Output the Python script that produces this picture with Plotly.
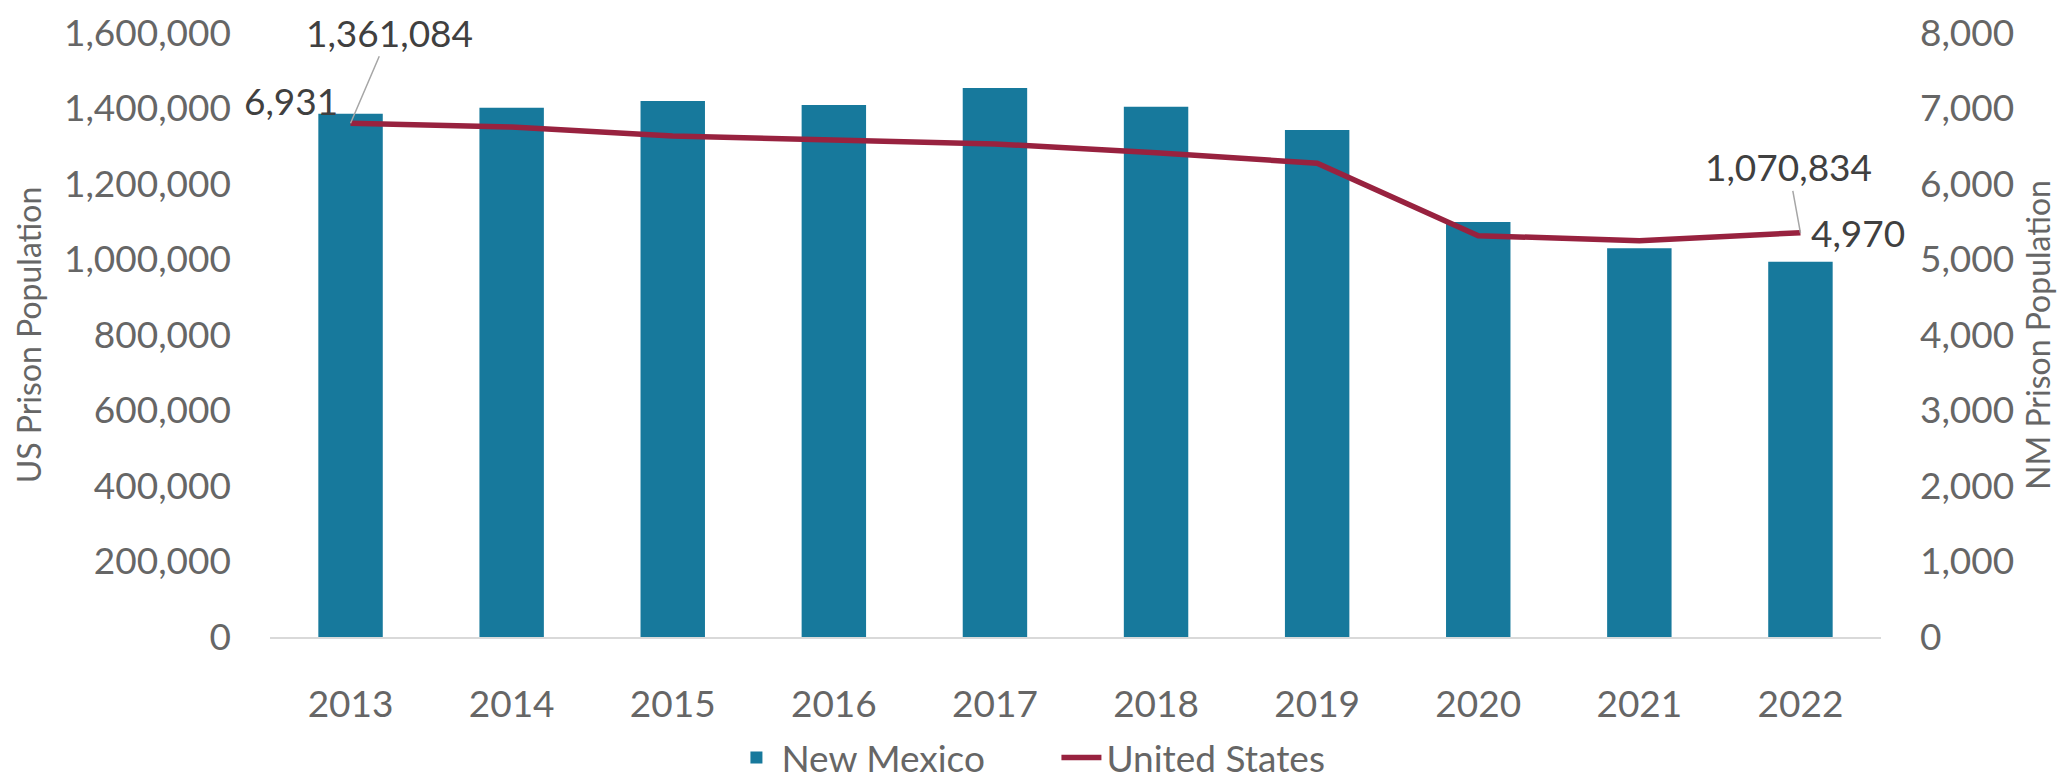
import plotly.graph_objects as go

years = ["2013", "2014", "2015", "2016", "2017", "2018", "2019", "2020", "2021", "2022"]
nm_values = [6931, 7011, 7099, 7046, 7272, 7024, 6715, 5497, 5148, 4970]
us_values = [1361084, 1351000, 1327000, 1316000, 1306000, 1283000, 1255000, 1063000, 1050000, 1070834]

us_ticks = [0, 200000, 400000, 600000, 800000, 1000000, 1200000, 1400000, 1600000]
nm_ticks = [0, 1000, 2000, 3000, 4000, 5000, 6000, 7000, 8000]

BAR = "#17799c"
LINE = "#98223f"
TICK = "#666666"
LABEL = "#404040"
FONT = "Lato, 'Open Sans', sans-serif"
FS = 37

fig = go.Figure()
fig.add_trace(go.Bar(
    x=years, y=nm_values, name="New Mexico", marker=dict(color=BAR, line=dict(width=0)),
    yaxis="y", hoverinfo="skip",
))
fig.add_trace(go.Scatter(
    x=years, y=us_values, name="United States", mode="lines",
    line=dict(color=LINE, width=5.5), yaxis="y2", hoverinfo="skip",
))

fig.update_layout(
    width=2072, height=781,
    margin=dict(l=262, r=199, t=25, b=152, autoexpand=False),
    paper_bgcolor="white", plot_bgcolor="white",
    font=dict(family=FONT, size=FS, color=TICK),
    bargap=0.6,
    showlegend=True,
    legend=dict(orientation="h", xref="container", yref="container", x=0.506, y=0.0,
                xanchor="center", yanchor="bottom", font=dict(size=FS, color=TICK),
                itemwidth=40, entrywidth=270, tracegroupgap=0),
    xaxis=dict(type="category", categoryarray=years, range=[-0.5, len(years) - 0.5],
               autorange=False, showgrid=False, showline=True,
               linecolor="#d9d9d9", linewidth=2, automargin=False,
               ticks="", ticklabelstandoff=34, tickfont=dict(size=FS, color=TICK)),
    yaxis=dict(side="right", range=[0, 8000], autorange=False, tickvals=nm_ticks, tickformat=",",
               showgrid=False, zeroline=False, ticks="", ticklabelstandoff=38, automargin=False,
               tickfont=dict(size=FS, color=TICK),
               title=dict(text="NM Prison Population", font=dict(size=32, color=TICK), standoff=14)),
    yaxis2=dict(side="left", overlaying="y", range=[0, 1600000], autorange=False,
                tickvals=us_ticks, tickformat=",",
                showgrid=False, zeroline=False, ticks="", ticklabelstandoff=38, automargin=False,
                tickfont=dict(size=FS, color=TICK),
                title=dict(text="US Prison Population", font=dict(size=32, color=TICK), standoff=12)),
)

first, last = 0, len(years) - 1
# data labels (category axes take the category index for annotations)
fig.add_annotation(x=first, y=us_values[first], xref="x", yref="y2",
                   text=f"{us_values[first]:,}", showarrow=True, arrowhead=0, arrowwidth=1.5,
                   arrowcolor="#a6a6a6", ax=39, ay=-91, font=dict(size=FS, color=LABEL))
fig.add_annotation(x=first, y=nm_values[first], xref="x", yref="y",
                   text=f"{nm_values[first]:,}", showarrow=False, xshift=-60, yshift=13,
                   font=dict(size=FS, color=LABEL))
fig.add_annotation(x=last, y=us_values[last], xref="x", yref="y2",
                   text=f"{us_values[last]:,}", showarrow=True, arrowhead=0, arrowwidth=1.5,
                   arrowcolor="#a6a6a6", ax=-12, ay=-66, font=dict(size=FS, color=LABEL))
fig.add_annotation(x=last, y=nm_values[last], xref="x", yref="y",
                   text=f"{nm_values[last]:,}", showarrow=False, xshift=58, yshift=29,
                   font=dict(size=FS, color=LABEL))

fig.write_html("out.html")
